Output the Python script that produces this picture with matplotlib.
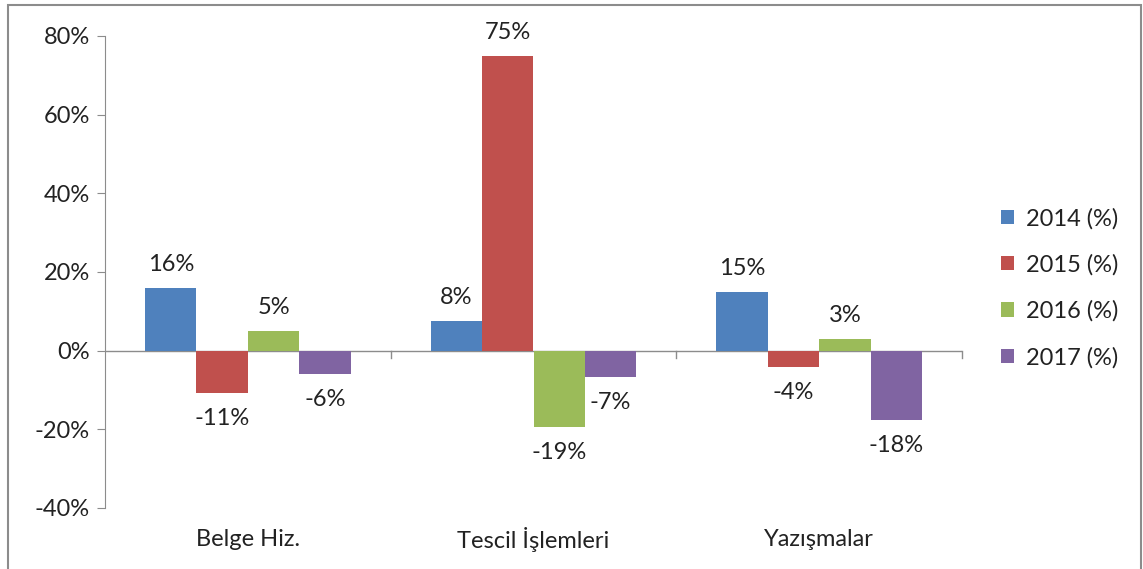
import numpy as np
import matplotlib.pyplot as plt
from matplotlib.patches import Rectangle
from matplotlib.ticker import FuncFormatter

categories = ['Belge Hiz.', 'Tescil İşlemleri', 'Yazışmalar']
series = ['2014 (%)', '2015 (%)', '2016 (%)', '2017 (%)']
v2014 = [16, 7.6, 15]
v2015 = [-10.7, 75, -4.2]
v2016 = [5, -19.3, 3]
v2017 = [-5.9, -6.6, -17.6]
labels2014 = ['16%', '8%', '15%']
labels2015 = ['-11%', '75%', '-4%']
labels2016 = ['5%', '-19%', '3%']
labels2017 = ['-6%', '-7%', '-18%']
colors = ['#4f81bd', '#c0504d', '#9bbb59', '#8064a2']

plt.rcParams['font.family'] = ['Lato', 'DejaVu Sans']
fs = 17

fig = plt.figure(figsize=(11.43, 5.69), dpi=100)
fig.patch.set_facecolor('white')
ax = fig.add_axes([105/1143, 1-508/569, (962-105)/1143, (508-36)/569])

# outer frame (bottom edge cut off in original)
fig.patches.append(Rectangle((8/1143, -0.05), (1141-8)/1143, 1.05-5/569,
                             transform=fig.transFigure, fill=False,
                             edgecolor='#8c8c8c', linewidth=1.5))

idx = np.arange(len(categories))
w = 0.18
all_vals = [v2014, v2015, v2016, v2017]
all_labels = [labels2014, labels2015, labels2016, labels2017]
for k in range(4):
    pos = idx + (k - 1.5) * w
    ax.bar(pos, all_vals[k], w, color=colors[k], label=series[k], zorder=2)
    for x, v, t in zip(pos, all_vals[k], all_labels[k]):
        if v >= 0:
            ax.annotate(t, (x, v), xytext=(0, 9), textcoords='offset points',
                        ha='center', va='bottom', fontsize=fs, color='#222222')
        else:
            ax.annotate(t, (x, v), xytext=(0, -11), textcoords='offset points',
                        ha='center', va='top', fontsize=fs, color='#222222')

ax.set_xlim(-0.5, 2.5)
ax.set_ylim(-40, 80)
ax.set_yticks(np.arange(-40, 81, 20))
ax.yaxis.set_major_formatter(FuncFormatter(lambda v, p: '%d%%' % v))
ax.tick_params(axis='y', length=6, color='#8c8c8c', labelsize=fs, labelcolor='#222222', pad=5)

for s in ['top', 'right', 'bottom']:
    ax.spines[s].set_visible(False)
ax.spines['left'].set_color('#8c8c8c')
ax.axhline(0, color='#8c8c8c', linewidth=1, zorder=1)

# category boundary ticks on the zero line
ax.set_xticks([])
for b in [0.5, 1.5, 2.5]:
    ax.plot([b, b], [0, -1.8], color='#8c8c8c', linewidth=1, clip_on=False)
for i, c in enumerate(categories):
    ax.text(i, -48, c, ha='center', va='center', fontsize=fs, color='#222222')

leg = fig.legend(loc='center left', bbox_to_anchor=(980/1143, 1-288/569),
                 frameon=False, fontsize=fs, handlelength=0.55, handleheight=0.55,
                 handletextpad=0.5, labelspacing=1.05)
for t in leg.get_texts():
    t.set_color('#222222')

fig.savefig('out.png', dpi=100)
